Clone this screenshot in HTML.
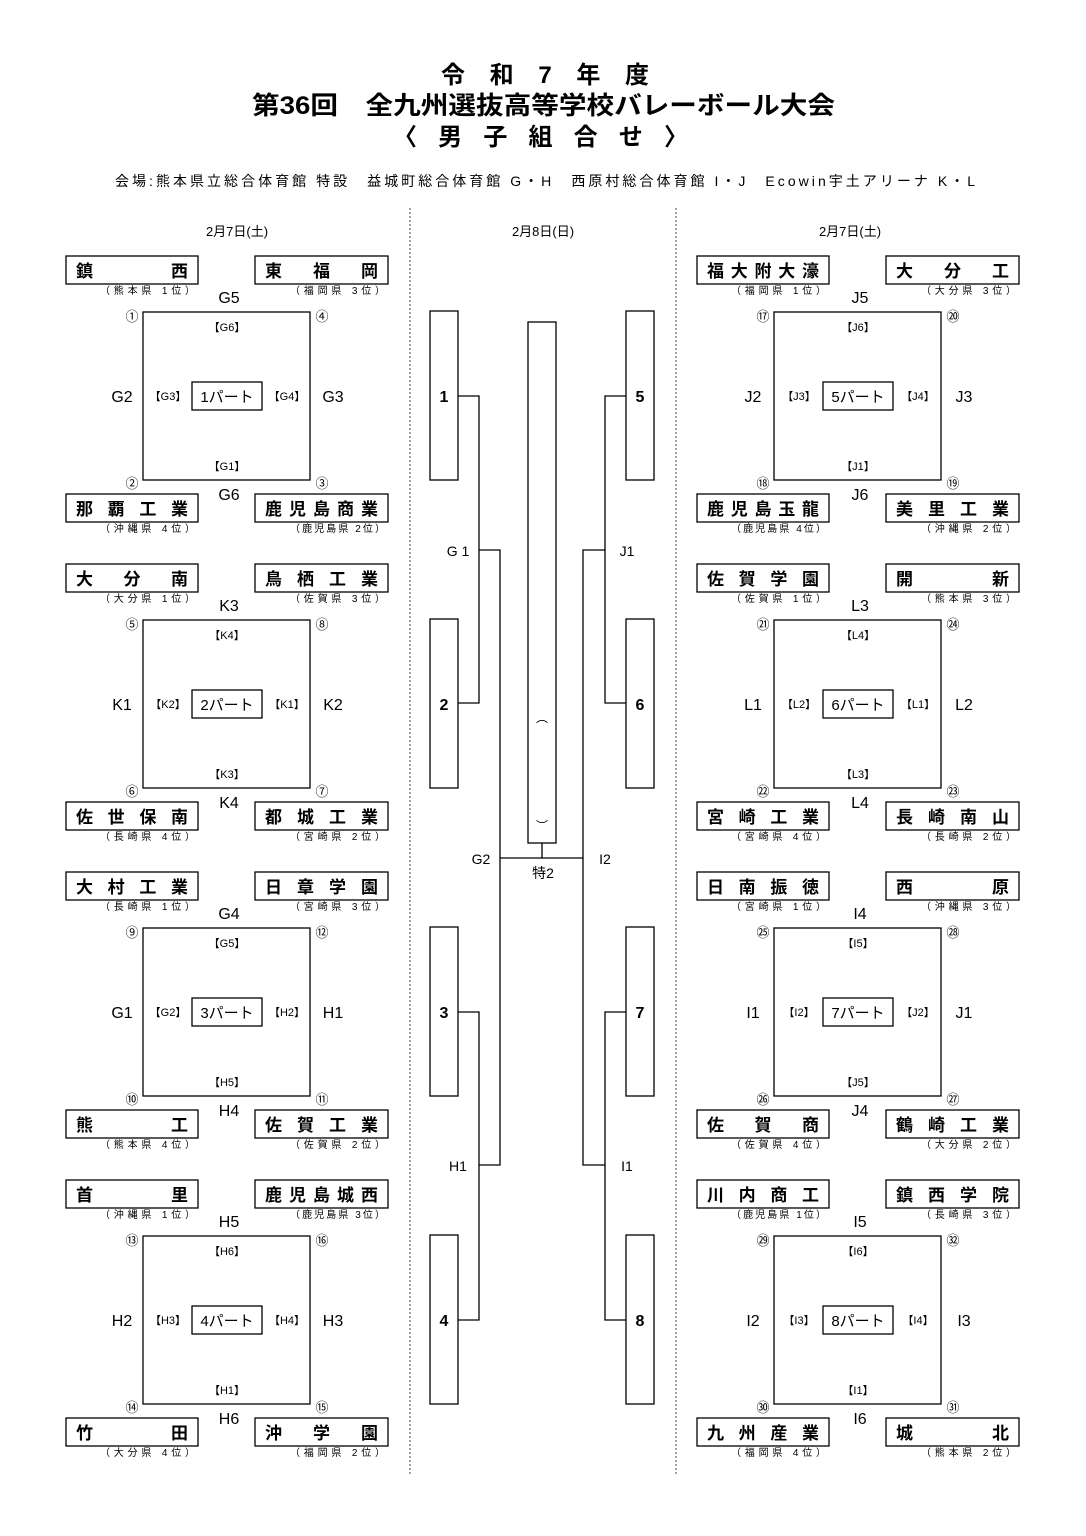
<!DOCTYPE html>
<html><head><meta charset="utf-8"><style>
html,body{margin:0;padding:0;background:#fff}
svg{display:block}
text{font-family:"Liberation Sans","Noto Sans CJK JP",sans-serif;fill:#000}
.t{font-size:17px;font-weight:bold}
.p{font-size:10px}
.c{font-size:13px;text-anchor:middle}
.l{font-size:16px;text-anchor:middle}
.b{font-size:11px;text-anchor:middle}
.m{font-size:15px;text-anchor:middle}
.n{font-size:16px;font-weight:bold;text-anchor:middle}
rect{fill:none;stroke:#000;stroke-width:1.3}
line,path{stroke:#000;stroke-width:1.3;fill:none}
</style></head><body>
<svg width="1086" height="1536" viewBox="0 0 1086 1536" xmlns="http://www.w3.org/2000/svg">
<text x="441" y="83" style="font-size:24px;font-weight:bold" textLength="208" lengthAdjust="spacing">令和7年度</text>
<text x="252" y="114" style="font-size:25px;font-weight:bold" textLength="583" lengthAdjust="spacingAndGlyphs">第36回　全九州選抜高等学校バレーボール大会</text>
<text x="393" y="145" style="font-size:24px;font-weight:bold" textLength="295" lengthAdjust="spacing">〈男子組合せ〉</text>
<text x="115" y="186" style="font-size:14px" textLength="860" lengthAdjust="spacing">会場:熊本県立総合体育館 特設　益城町総合体育館 G・H　西原村総合体育館 I・J　Ecowin宇土アリーナ K・L</text>
<line x1="410" y1="208" x2="410" y2="1475" style="stroke:#444;stroke-width:1;stroke-dasharray:2 2"/>
<line x1="676" y1="208" x2="676" y2="1475" style="stroke:#444;stroke-width:1;stroke-dasharray:2 2"/>
<text x="237" y="236" style="font-size:13px;text-anchor:middle">2月7日(土)</text>
<text x="543" y="236" style="font-size:13px;text-anchor:middle">2月8日(日)</text>
<text x="850" y="236" style="font-size:13px;text-anchor:middle">2月7日(土)</text>

<rect x="430" y="311" width="28" height="169"/><rect x="430" y="619" width="28" height="169"/>
<rect x="430" y="927" width="28" height="169"/><rect x="430" y="1235" width="28" height="169"/>
<rect x="626" y="311" width="28" height="169"/><rect x="626" y="619" width="28" height="169"/>
<rect x="626" y="927" width="28" height="169"/><rect x="626" y="1235" width="28" height="169"/>
<text x="444" y="402" class="n">1</text><text x="444" y="710" class="n">2</text>
<text x="444" y="1018" class="n">3</text><text x="444" y="1326" class="n">4</text>
<text x="640" y="402" class="n">5</text><text x="640" y="710" class="n">6</text>
<text x="640" y="1018" class="n">7</text><text x="640" y="1326" class="n">8</text>
<rect x="528" y="322" width="28" height="521"/>
<text x="542" y="722" style="font-size:12px;text-anchor:middle">︵</text>
<text x="542" y="830" style="font-size:12px;text-anchor:middle">︶</text>
<path d="M458 396H479V703H458"/><path d="M479 550H500V1165H479"/>
<path d="M458 1012H479V1320H458"/>
<path d="M626 396H605V703H626"/><path d="M605 550H583V1165H605"/>
<path d="M626 1012H605V1320H626"/>
<path d="M500 858H583M542 843V858"/>
<text x="458" y="556" style="font-size:14px;text-anchor:middle">G 1</text>
<text x="627" y="556" style="font-size:14px;text-anchor:middle">J1</text>
<text x="481" y="864" style="font-size:14px;text-anchor:middle">G2</text>
<text x="605" y="864" style="font-size:14px;text-anchor:middle">I2</text>
<text x="543" y="878" style="font-size:14px;text-anchor:middle">特2</text>
<text x="458" y="1171" style="font-size:14px;text-anchor:middle">H1</text>
<text x="627" y="1171" style="font-size:14px;text-anchor:middle">I1</text>

<g>
<rect x="66" y="256" width="132" height="28"/><rect x="255" y="256" width="133" height="28"/>
<text x="76" y="277" class="t" textLength="112" lengthAdjust="spacing">鎮西</text>
<text x="265" y="277" class="t" textLength="113" lengthAdjust="spacing">東福岡</text>
<text x="100" y="294" class="p" textLength="95" lengthAdjust="spacing">（熊本県 1位）</text>
<text x="290" y="294" class="p" textLength="95" lengthAdjust="spacing">（福岡県 3位）</text>
<rect x="143" y="312" width="167" height="168"/>
<text x="132" y="321" class="c">①</text><text x="322" y="321" class="c">④</text>
<text x="132" y="488" class="c">②</text><text x="322" y="488" class="c">③</text>
<text x="229" y="303" class="l">G5</text><text x="229" y="500" class="l">G6</text>
<text x="122" y="402" class="l">G2</text><text x="333" y="402" class="l">G3</text>
<text x="227" y="331" class="b">【G6】</text><text x="227" y="470" class="b">【G1】</text>
<text x="168" y="400" class="b">【G3】</text><text x="287" y="400" class="b">【G4】</text>
<rect x="192" y="382" width="70" height="28"/><text x="227" y="402" class="m">1パート</text>
<rect x="66" y="494" width="132" height="28"/><rect x="255" y="494" width="133" height="28"/>
<text x="76" y="515" class="t" textLength="112" lengthAdjust="spacing">那覇工業</text>
<text x="265" y="515" class="t" textLength="113" lengthAdjust="spacing">鹿児島商業</text>
<text x="100" y="532" class="p" textLength="95" lengthAdjust="spacing">（沖縄県 4位）</text>
<text x="290" y="532" class="p" textLength="95" lengthAdjust="spacing">（鹿児島県 2位）</text>
</g>
<g transform="translate(0,308)">
<rect x="66" y="256" width="132" height="28"/><rect x="255" y="256" width="133" height="28"/>
<text x="76" y="277" class="t" textLength="112" lengthAdjust="spacing">大分南</text>
<text x="265" y="277" class="t" textLength="113" lengthAdjust="spacing">鳥栖工業</text>
<text x="100" y="294" class="p" textLength="95" lengthAdjust="spacing">（大分県 1位）</text>
<text x="290" y="294" class="p" textLength="95" lengthAdjust="spacing">（佐賀県 3位）</text>
<rect x="143" y="312" width="167" height="168"/>
<text x="132" y="321" class="c">⑤</text><text x="322" y="321" class="c">⑧</text>
<text x="132" y="488" class="c">⑥</text><text x="322" y="488" class="c">⑦</text>
<text x="229" y="303" class="l">K3</text><text x="229" y="500" class="l">K4</text>
<text x="122" y="402" class="l">K1</text><text x="333" y="402" class="l">K2</text>
<text x="227" y="331" class="b">【K4】</text><text x="227" y="470" class="b">【K3】</text>
<text x="168" y="400" class="b">【K2】</text><text x="287" y="400" class="b">【K1】</text>
<rect x="192" y="382" width="70" height="28"/><text x="227" y="402" class="m">2パート</text>
<rect x="66" y="494" width="132" height="28"/><rect x="255" y="494" width="133" height="28"/>
<text x="76" y="515" class="t" textLength="112" lengthAdjust="spacing">佐世保南</text>
<text x="265" y="515" class="t" textLength="113" lengthAdjust="spacing">都城工業</text>
<text x="100" y="532" class="p" textLength="95" lengthAdjust="spacing">（長崎県 4位）</text>
<text x="290" y="532" class="p" textLength="95" lengthAdjust="spacing">（宮崎県 2位）</text>
</g>
<g transform="translate(0,616)">
<rect x="66" y="256" width="132" height="28"/><rect x="255" y="256" width="133" height="28"/>
<text x="76" y="277" class="t" textLength="112" lengthAdjust="spacing">大村工業</text>
<text x="265" y="277" class="t" textLength="113" lengthAdjust="spacing">日章学園</text>
<text x="100" y="294" class="p" textLength="95" lengthAdjust="spacing">（長崎県 1位）</text>
<text x="290" y="294" class="p" textLength="95" lengthAdjust="spacing">（宮崎県 3位）</text>
<rect x="143" y="312" width="167" height="168"/>
<text x="132" y="321" class="c">⑨</text><text x="322" y="321" class="c">⑫</text>
<text x="132" y="488" class="c">⑩</text><text x="322" y="488" class="c">⑪</text>
<text x="229" y="303" class="l">G4</text><text x="229" y="500" class="l">H4</text>
<text x="122" y="402" class="l">G1</text><text x="333" y="402" class="l">H1</text>
<text x="227" y="331" class="b">【G5】</text><text x="227" y="470" class="b">【H5】</text>
<text x="168" y="400" class="b">【G2】</text><text x="287" y="400" class="b">【H2】</text>
<rect x="192" y="382" width="70" height="28"/><text x="227" y="402" class="m">3パート</text>
<rect x="66" y="494" width="132" height="28"/><rect x="255" y="494" width="133" height="28"/>
<text x="76" y="515" class="t" textLength="112" lengthAdjust="spacing">熊工</text>
<text x="265" y="515" class="t" textLength="113" lengthAdjust="spacing">佐賀工業</text>
<text x="100" y="532" class="p" textLength="95" lengthAdjust="spacing">（熊本県 4位）</text>
<text x="290" y="532" class="p" textLength="95" lengthAdjust="spacing">（佐賀県 2位）</text>
</g>
<g transform="translate(0,924)">
<rect x="66" y="256" width="132" height="28"/><rect x="255" y="256" width="133" height="28"/>
<text x="76" y="277" class="t" textLength="112" lengthAdjust="spacing">首里</text>
<text x="265" y="277" class="t" textLength="113" lengthAdjust="spacing">鹿児島城西</text>
<text x="100" y="294" class="p" textLength="95" lengthAdjust="spacing">（沖縄県 1位）</text>
<text x="290" y="294" class="p" textLength="95" lengthAdjust="spacing">（鹿児島県 3位）</text>
<rect x="143" y="312" width="167" height="168"/>
<text x="132" y="321" class="c">⑬</text><text x="322" y="321" class="c">⑯</text>
<text x="132" y="488" class="c">⑭</text><text x="322" y="488" class="c">⑮</text>
<text x="229" y="303" class="l">H5</text><text x="229" y="500" class="l">H6</text>
<text x="122" y="402" class="l">H2</text><text x="333" y="402" class="l">H3</text>
<text x="227" y="331" class="b">【H6】</text><text x="227" y="470" class="b">【H1】</text>
<text x="168" y="400" class="b">【H3】</text><text x="287" y="400" class="b">【H4】</text>
<rect x="192" y="382" width="70" height="28"/><text x="227" y="402" class="m">4パート</text>
<rect x="66" y="494" width="132" height="28"/><rect x="255" y="494" width="133" height="28"/>
<text x="76" y="515" class="t" textLength="112" lengthAdjust="spacing">竹田</text>
<text x="265" y="515" class="t" textLength="113" lengthAdjust="spacing">沖学園</text>
<text x="100" y="532" class="p" textLength="95" lengthAdjust="spacing">（大分県 4位）</text>
<text x="290" y="532" class="p" textLength="95" lengthAdjust="spacing">（福岡県 2位）</text>
</g>

<g transform="translate(631,0)">
<rect x="66" y="256" width="132" height="28"/><rect x="255" y="256" width="133" height="28"/>
<text x="76" y="277" class="t" textLength="112" lengthAdjust="spacing">福大附大濠</text>
<text x="265" y="277" class="t" textLength="113" lengthAdjust="spacing">大分工</text>
<text x="100" y="294" class="p" textLength="95" lengthAdjust="spacing">（福岡県 1位）</text>
<text x="290" y="294" class="p" textLength="95" lengthAdjust="spacing">（大分県 3位）</text>
<rect x="143" y="312" width="167" height="168"/>
<text x="132" y="321" class="c">⑰</text><text x="322" y="321" class="c">⑳</text>
<text x="132" y="488" class="c">⑱</text><text x="322" y="488" class="c">⑲</text>
<text x="229" y="303" class="l">J5</text><text x="229" y="500" class="l">J6</text>
<text x="122" y="402" class="l">J2</text><text x="333" y="402" class="l">J3</text>
<text x="227" y="331" class="b">【J6】</text><text x="227" y="470" class="b">【J1】</text>
<text x="168" y="400" class="b">【J3】</text><text x="287" y="400" class="b">【J4】</text>
<rect x="192" y="382" width="70" height="28"/><text x="227" y="402" class="m">5パート</text>
<rect x="66" y="494" width="132" height="28"/><rect x="255" y="494" width="133" height="28"/>
<text x="76" y="515" class="t" textLength="112" lengthAdjust="spacing">鹿児島玉龍</text>
<text x="265" y="515" class="t" textLength="113" lengthAdjust="spacing">美里工業</text>
<text x="100" y="532" class="p" textLength="95" lengthAdjust="spacing">（鹿児島県 4位）</text>
<text x="290" y="532" class="p" textLength="95" lengthAdjust="spacing">（沖縄県 2位）</text>
</g>
<g transform="translate(631,308)">
<rect x="66" y="256" width="132" height="28"/><rect x="255" y="256" width="133" height="28"/>
<text x="76" y="277" class="t" textLength="112" lengthAdjust="spacing">佐賀学園</text>
<text x="265" y="277" class="t" textLength="113" lengthAdjust="spacing">開新</text>
<text x="100" y="294" class="p" textLength="95" lengthAdjust="spacing">（佐賀県 1位）</text>
<text x="290" y="294" class="p" textLength="95" lengthAdjust="spacing">（熊本県 3位）</text>
<rect x="143" y="312" width="167" height="168"/>
<text x="132" y="321" class="c">㉑</text><text x="322" y="321" class="c">㉔</text>
<text x="132" y="488" class="c">㉒</text><text x="322" y="488" class="c">㉓</text>
<text x="229" y="303" class="l">L3</text><text x="229" y="500" class="l">L4</text>
<text x="122" y="402" class="l">L1</text><text x="333" y="402" class="l">L2</text>
<text x="227" y="331" class="b">【L4】</text><text x="227" y="470" class="b">【L3】</text>
<text x="168" y="400" class="b">【L2】</text><text x="287" y="400" class="b">【L1】</text>
<rect x="192" y="382" width="70" height="28"/><text x="227" y="402" class="m">6パート</text>
<rect x="66" y="494" width="132" height="28"/><rect x="255" y="494" width="133" height="28"/>
<text x="76" y="515" class="t" textLength="112" lengthAdjust="spacing">宮崎工業</text>
<text x="265" y="515" class="t" textLength="113" lengthAdjust="spacing">長崎南山</text>
<text x="100" y="532" class="p" textLength="95" lengthAdjust="spacing">（宮崎県 4位）</text>
<text x="290" y="532" class="p" textLength="95" lengthAdjust="spacing">（長崎県 2位）</text>
</g>
<g transform="translate(631,616)">
<rect x="66" y="256" width="132" height="28"/><rect x="255" y="256" width="133" height="28"/>
<text x="76" y="277" class="t" textLength="112" lengthAdjust="spacing">日南振徳</text>
<text x="265" y="277" class="t" textLength="113" lengthAdjust="spacing">西原</text>
<text x="100" y="294" class="p" textLength="95" lengthAdjust="spacing">（宮崎県 1位）</text>
<text x="290" y="294" class="p" textLength="95" lengthAdjust="spacing">（沖縄県 3位）</text>
<rect x="143" y="312" width="167" height="168"/>
<text x="132" y="321" class="c">㉕</text><text x="322" y="321" class="c">㉘</text>
<text x="132" y="488" class="c">㉖</text><text x="322" y="488" class="c">㉗</text>
<text x="229" y="303" class="l">I4</text><text x="229" y="500" class="l">J4</text>
<text x="122" y="402" class="l">I1</text><text x="333" y="402" class="l">J1</text>
<text x="227" y="331" class="b">【I5】</text><text x="227" y="470" class="b">【J5】</text>
<text x="168" y="400" class="b">【I2】</text><text x="287" y="400" class="b">【J2】</text>
<rect x="192" y="382" width="70" height="28"/><text x="227" y="402" class="m">7パート</text>
<rect x="66" y="494" width="132" height="28"/><rect x="255" y="494" width="133" height="28"/>
<text x="76" y="515" class="t" textLength="112" lengthAdjust="spacing">佐賀商</text>
<text x="265" y="515" class="t" textLength="113" lengthAdjust="spacing">鶴崎工業</text>
<text x="100" y="532" class="p" textLength="95" lengthAdjust="spacing">（佐賀県 4位）</text>
<text x="290" y="532" class="p" textLength="95" lengthAdjust="spacing">（大分県 2位）</text>
</g>
<g transform="translate(631,924)">
<rect x="66" y="256" width="132" height="28"/><rect x="255" y="256" width="133" height="28"/>
<text x="76" y="277" class="t" textLength="112" lengthAdjust="spacing">川内商工</text>
<text x="265" y="277" class="t" textLength="113" lengthAdjust="spacing">鎮西学院</text>
<text x="100" y="294" class="p" textLength="95" lengthAdjust="spacing">（鹿児島県 1位）</text>
<text x="290" y="294" class="p" textLength="95" lengthAdjust="spacing">（長崎県 3位）</text>
<rect x="143" y="312" width="167" height="168"/>
<text x="132" y="321" class="c">㉙</text><text x="322" y="321" class="c">㉜</text>
<text x="132" y="488" class="c">㉚</text><text x="322" y="488" class="c">㉛</text>
<text x="229" y="303" class="l">I5</text><text x="229" y="500" class="l">I6</text>
<text x="122" y="402" class="l">I2</text><text x="333" y="402" class="l">I3</text>
<text x="227" y="331" class="b">【I6】</text><text x="227" y="470" class="b">【I1】</text>
<text x="168" y="400" class="b">【I3】</text><text x="287" y="400" class="b">【I4】</text>
<rect x="192" y="382" width="70" height="28"/><text x="227" y="402" class="m">8パート</text>
<rect x="66" y="494" width="132" height="28"/><rect x="255" y="494" width="133" height="28"/>
<text x="76" y="515" class="t" textLength="112" lengthAdjust="spacing">九州産業</text>
<text x="265" y="515" class="t" textLength="113" lengthAdjust="spacing">城北</text>
<text x="100" y="532" class="p" textLength="95" lengthAdjust="spacing">（福岡県 4位）</text>
<text x="290" y="532" class="p" textLength="95" lengthAdjust="spacing">（熊本県 2位）</text>
</g>
</svg>
</body></html>
